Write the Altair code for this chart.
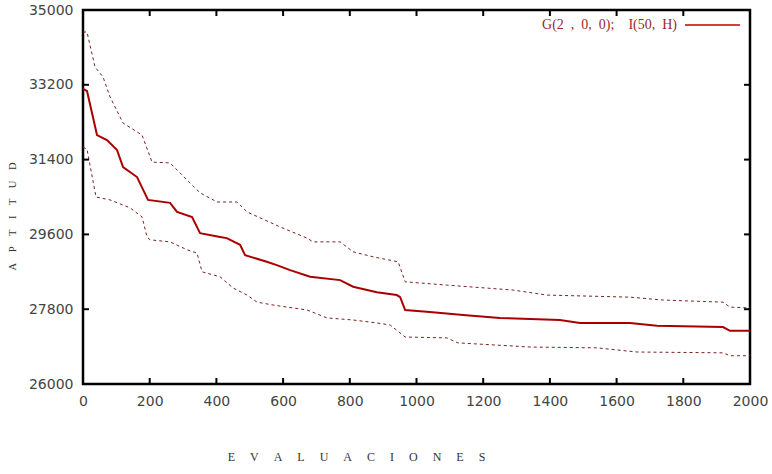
import altair as alt
import pandas as pd

# ---- data ----
mean_x = [0, 12, 42, 72, 102, 120, 162, 195, 261, 282, 327, 351, 411, 431, 471, 486, 551, 581, 621, 681,
          771, 810, 881, 941, 951, 966, 1040, 1140, 1250, 1430, 1490, 1640, 1721, 1919, 1940, 2000]
mean_y = [33100, 33050, 31990, 31870, 31630, 31220, 30980, 30430, 30360, 30140, 30020, 29630, 29540, 29510,
          29350, 29100, 28940, 28860, 28740, 28580, 28500, 28340, 28210, 28140, 28090, 27780, 27730, 27660,
          27590, 27540, 27470, 27470, 27400, 27370, 27280, 27280]

upper_x = [0, 12, 36, 60, 81, 120, 177, 207, 261, 312, 351, 402, 462, 492, 591, 672, 690, 771, 810, 870,
           945, 966, 1091, 1290, 1391, 1640, 1740, 1919, 1940, 2000]
upper_y = [34470, 34470, 33630, 33390, 32910, 32280, 31990, 31340, 31320, 30910, 30600, 30380, 30380, 30140,
           29780, 29510, 29420, 29420, 29180, 29060, 28940, 28460, 28380, 28260, 28140, 28090, 28020, 27970,
           27850, 27830]

lower_x = [0, 12, 39, 81, 141, 177, 192, 201, 261, 312, 342, 357, 411, 450, 492, 522, 570, 630, 672, 732,
           810, 881, 921, 966, 1091, 1124, 1340, 1541, 1661, 1919, 1940, 2000]
lower_y = [31700, 31650, 30500, 30430, 30240, 30020, 29540, 29470, 29420, 29230, 29150, 28700, 28580, 28310,
           28140, 27970, 27900, 27830, 27780, 27590, 27540, 27470, 27420, 27130, 27110, 26990, 26890, 26870,
           26770, 26750, 26680, 26680]

x_ticks = [0, 200, 400, 600, 800, 1000, 1200, 1400, 1600, 1800, 2000]
y_ticks = [26000, 27800, 29600, 31400, 33200, 35000]
inner_x_ticks = [200, 400, 600, 800, 1000, 1200, 1400, 1600, 1800]
inner_y_ticks = [27800, 29600, 31400, 33200]

series_name = "G(2\u2002,\u20020,\u20020);\u2002\u2002I(50,\u2002H)"

W, H = 667, 374

mean_df = pd.DataFrame({"x": mean_x, "y": mean_y})
upper_df = pd.DataFrame({"x": upper_x, "y": upper_y})
lower_df = pd.DataFrame({"x": lower_x, "y": lower_y})
xt_df = pd.DataFrame({"x": inner_x_ticks})
yt_df = pd.DataFrame({"y": inner_y_ticks})
legend_df = pd.DataFrame({"label": [series_name]})

x_title = "\u2003\u2005".join(list("EVALUACIONES"))
y_title = "\u2003".join(list("APTITUD"))

xscale = alt.Scale(domain=[0, 2000], nice=False, zero=False)
yscale = alt.Scale(domain=[26000, 35000], nice=False, zero=False)

xaxis = alt.Axis(values=x_ticks, domain=False, ticks=False, grid=False, format="d",
                 labelFlush=False, labelOverlap=False, labelBound=False,
                 labelFont="DejaVu Sans", labelFontSize=14, labelColor="#444", labelPadding=10,
                 title=x_title, titleFont="Liberation Serif", titleFontSize=12, titleFontWeight="normal",
                 titleColor="#333", titleX=273, titleY=72, titleBaseline="middle", titleAlign="center")
yaxis = alt.Axis(values=y_ticks, domain=False, ticks=False, grid=False, format="d",
                 labelFlush=False, labelOverlap=False, labelBound=False,
                 labelFont="DejaVu Sans", labelFontSize=14, labelColor="#444", labelPadding=10,
                 title=y_title, titleFont="Liberation Serif", titleFontSize=10.5, titleFontWeight="normal",
                 titleColor="#333", titleX=-71, titleY=206, titleBaseline="middle", titleAlign="center")

mean = alt.Chart(mean_df).mark_line(strokeWidth=2, color="#a80000").encode(
    x=alt.X("x:Q", scale=xscale, axis=xaxis),
    y=alt.Y("y:Q", scale=yscale, axis=yaxis),
)

upper = alt.Chart(upper_df).mark_line(strokeWidth=1, strokeDash=[3, 3], color="#7a2020").encode(
    x=alt.X("x:Q", scale=xscale), y=alt.Y("y:Q", scale=yscale))
lower = alt.Chart(lower_df).mark_line(strokeWidth=1, strokeDash=[3, 3], color="#7a2020").encode(
    x=alt.X("x:Q", scale=xscale), y=alt.Y("y:Q", scale=yscale))

tick_top = alt.Chart(xt_df).mark_rule(color="black", strokeWidth=2).encode(
    x=alt.X("x:Q", scale=xscale), y=alt.value(0), y2=alt.value(6))
tick_bot = alt.Chart(xt_df).mark_rule(color="black", strokeWidth=2).encode(
    x=alt.X("x:Q", scale=xscale), y=alt.value(H), y2=alt.value(H - 6))
tick_left = alt.Chart(yt_df).mark_rule(color="black", strokeWidth=2).encode(
    y=alt.Y("y:Q", scale=yscale), x=alt.value(0), x2=alt.value(6))
tick_right = alt.Chart(yt_df).mark_rule(color="black", strokeWidth=2).encode(
    y=alt.Y("y:Q", scale=yscale), x=alt.value(W), x2=alt.value(W - 6))

# legend (key at top-right, label to the left of the line sample)
leg_text = alt.Chart(legend_df).mark_text(
    align="right", baseline="middle", font="Liberation Serif", fontSize=14, color="#9a2a2a"
).encode(text="label:N", x=alt.value(594), y=alt.value(15))
leg_line = alt.Chart(legend_df).mark_rule(color="#c00000", strokeWidth=1.5).encode(
    x=alt.value(602), x2=alt.value(657), y=alt.value(15))

chart = alt.layer(upper, lower, mean, tick_top, tick_bot, tick_left, tick_right, leg_text, leg_line).properties(
    width=W, height=H,
    autosize=alt.AutoSizeParams(type="none"),
    padding={"left": 83, "top": 10, "right": 22, "bottom": 90},
    background="white",
).configure_view(stroke="black", strokeWidth=2.5)

chart.save("out.html", embed_options={"renderer": "svg", "actions": False})
